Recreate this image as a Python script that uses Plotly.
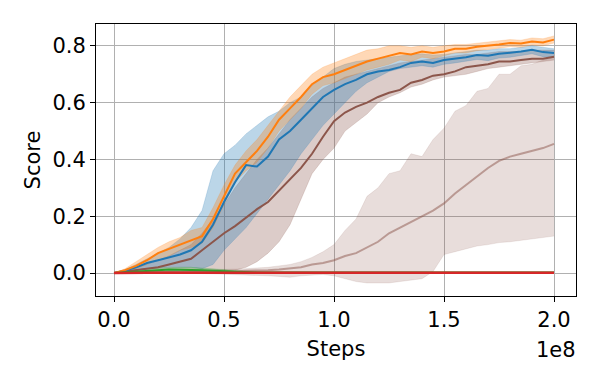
import plotly.graph_objects as go

# steps (x 1e8), sampled every 5e6
steps = [i * 5e6 for i in range(41)]

orange_mean = [0, 0.01, 0.025, 0.045, 0.07, 0.085, 0.10, 0.115, 0.13, 0.19, 0.27, 0.35, 0.39, 0.43, 0.48, 0.54,
               0.58, 0.62, 0.665, 0.69, 0.70, 0.715, 0.73, 0.745, 0.755, 0.765, 0.775, 0.77, 0.78, 0.775, 0.78,
               0.79, 0.79, 0.797, 0.80, 0.805, 0.81, 0.808, 0.815, 0.812, 0.822]
orange_hi = [0, 0.015, 0.04, 0.065, 0.09, 0.11, 0.125, 0.15, 0.16, 0.23, 0.31, 0.38, 0.43, 0.47, 0.52, 0.57,
             0.62, 0.66, 0.70, 0.725, 0.74, 0.755, 0.77, 0.785, 0.79, 0.80, 0.80, 0.795, 0.80, 0.795, 0.80,
             0.805, 0.805, 0.81, 0.815, 0.818, 0.822, 0.82, 0.828, 0.825, 0.835]
orange_lo = [0, 0.005, 0.015, 0.03, 0.05, 0.06, 0.08, 0.09, 0.105, 0.16, 0.24, 0.32, 0.36, 0.39, 0.44, 0.50,
             0.54, 0.58, 0.63, 0.66, 0.67, 0.685, 0.70, 0.715, 0.725, 0.735, 0.75, 0.745, 0.76, 0.755, 0.765,
             0.775, 0.775, 0.783, 0.787, 0.792, 0.797, 0.795, 0.803, 0.80, 0.81]

blue_mean = [0, 0.008, 0.02, 0.035, 0.045, 0.055, 0.065, 0.08, 0.11, 0.17, 0.25, 0.32, 0.38, 0.375, 0.41, 0.47,
             0.50, 0.54, 0.58, 0.62, 0.645, 0.665, 0.68, 0.70, 0.71, 0.715, 0.725, 0.74, 0.745, 0.74, 0.75,
             0.755, 0.76, 0.768, 0.765, 0.772, 0.775, 0.78, 0.786, 0.778, 0.775]
blue_hi = [0, 0.012, 0.03, 0.05, 0.07, 0.09, 0.12, 0.16, 0.22, 0.36, 0.42, 0.45, 0.49, 0.52, 0.55, 0.57,
           0.60, 0.62, 0.66, 0.69, 0.72, 0.735, 0.745, 0.75, 0.755, 0.76, 0.765, 0.77, 0.772, 0.768, 0.77,
           0.775, 0.778, 0.785, 0.785, 0.79, 0.79, 0.795, 0.80, 0.795, 0.79]
blue_lo = [0, 0.004, 0.01, 0.015, 0.018, 0.02, 0.02, 0.02, 0.015, 0.03, 0.08, 0.12, 0.16, 0.21, 0.26, 0.31,
           0.36, 0.42, 0.47, 0.52, 0.56, 0.60, 0.64, 0.67, 0.69, 0.71, 0.72, 0.725, 0.73, 0.725, 0.735,
           0.74, 0.745, 0.752, 0.748, 0.757, 0.76, 0.765, 0.772, 0.762, 0.76]

brown_mean = [0, 0.005, 0.01, 0.015, 0.02, 0.03, 0.04, 0.05, 0.08, 0.11, 0.14, 0.165, 0.195, 0.225, 0.25, 0.29,
              0.33, 0.37, 0.42, 0.48, 0.535, 0.565, 0.585, 0.60, 0.62, 0.635, 0.645, 0.67, 0.68, 0.695, 0.70,
              0.71, 0.725, 0.73, 0.735, 0.745, 0.745, 0.75, 0.755, 0.755, 0.762]
brown_hi = [0, 0.008, 0.02, 0.03, 0.045, 0.06, 0.08, 0.10, 0.14, 0.19, 0.24, 0.30, 0.35, 0.40, 0.44, 0.49,
            0.54, 0.58, 0.62, 0.65, 0.67, 0.69, 0.70, 0.71, 0.72, 0.73, 0.74, 0.745, 0.75, 0.755, 0.76,
            0.765, 0.77, 0.77, 0.775, 0.78, 0.78, 0.78, 0.785, 0.785, 0.785]
brown_lo = [0, 0.002, 0.003, 0.004, 0.005, 0.005, 0.005, 0.006, 0.006, 0.006, 0.008, 0.01, 0.02, 0.04, 0.07, 0.11,
            0.17, 0.26, 0.35, 0.40, 0.44, 0.50, 0.53, 0.56, 0.60, 0.62, 0.635, 0.655, 0.665, 0.68, 0.69,
            0.695, 0.70, 0.71, 0.72, 0.725, 0.73, 0.735, 0.74, 0.745, 0.75]

pale_mean = [0, 0.001, 0.002, 0.002, 0.003, 0.003, 0.003, 0.003, 0.004, 0.004, 0.005, 0.005, 0.008, 0.008, 0.01,
             0.012, 0.015, 0.02, 0.03, 0.035, 0.045, 0.06, 0.07, 0.09, 0.11, 0.14, 0.16, 0.18, 0.20, 0.22,
             0.245, 0.28, 0.31, 0.34, 0.37, 0.395, 0.41, 0.42, 0.43, 0.44, 0.455]
pale_hi = [0, 0.002, 0.004, 0.005, 0.006, 0.007, 0.008, 0.009, 0.01, 0.01, 0.012, 0.013, 0.015, 0.018, 0.02,
           0.025, 0.03, 0.04, 0.055, 0.075, 0.10, 0.15, 0.19, 0.27, 0.30, 0.35, 0.36, 0.42, 0.41, 0.47,
           0.51, 0.57, 0.59, 0.64, 0.65, 0.70, 0.70, 0.73, 0.735, 0.75, 0.76]
pale_lo = [0, 0, 0, 0, 0, 0, 0, 0, -0.002, -0.003, -0.004, -0.005, -0.006, -0.008, -0.01, -0.012, -0.015,
           -0.01, -0.008, -0.005, -0.01, -0.02, -0.03, -0.035, -0.035, -0.035, -0.03, -0.025, -0.02, 0.005,
           0.065, 0.075, 0.085, 0.095, 0.10, 0.107, 0.11, 0.115, 0.12, 0.125, 0.13]

green_mean = [0, 0.003, 0.006, 0.008, 0.01, 0.012, 0.012, 0.012, 0.01, 0.008, 0.006, 0.004, 0.003, 0.002, 0.002,
              0.002, 0.002, 0.002, 0.002, 0.002, 0.002, 0.002, 0.002, 0.002, 0.002, 0.002, 0.002, 0.002, 0.002,
              0.002, 0.002, 0.002, 0.002, 0.002, 0.002, 0.002, 0.002, 0.002, 0.002, 0.002, 0.002]
green_hi = [0, 0.006, 0.012, 0.016, 0.018, 0.02, 0.02, 0.02, 0.018, 0.015, 0.012, 0.008, 0.006, 0.004, 0.004,
            0.004, 0.004, 0.004, 0.004, 0.004, 0.004, 0.004, 0.004, 0.004, 0.004, 0.004, 0.004, 0.004, 0.004,
            0.004, 0.004, 0.004, 0.004, 0.004, 0.004, 0.004, 0.004, 0.004, 0.004, 0.004, 0.004]
green_lo = [0] * 41

red_mean = [0] + [0.001] * 40
red_hi = [v + 0.002 for v in red_mean]
red_lo = [v - 0.002 for v in red_mean]

runs = [
    # name, mean, lo, hi, line colour, band colour, line width
    ('pale', pale_mean, pale_lo, pale_hi, 'rgba(140,86,75,0.5)', 'rgba(140,86,75,0.2)', 2),
    ('brown', brown_mean, brown_lo, brown_hi, '#8c564b', 'rgba(140,86,75,0.3)', 2),
    ('blue', blue_mean, blue_lo, blue_hi, '#1f77b4', 'rgba(31,119,180,0.3)', 2),
    ('orange', orange_mean, orange_lo, orange_hi, '#ff7f0e', 'rgba(255,127,14,0.3)', 2),
    ('green', green_mean, green_lo, green_hi, '#2ca02c', 'rgba(44,160,44,0.3)', 2),
    ('red', red_mean, red_lo, red_hi, '#d62728', 'rgba(214,39,40,0.3)', 2.5),
]

fig = go.Figure()
for name, mean, lo, hi, lc, fc, lw in runs:
    fig.add_trace(go.Scatter(x=steps, y=lo, mode='lines', line=dict(width=0.6, color=fc), showlegend=False))
    fig.add_trace(go.Scatter(x=steps, y=hi, mode='lines', line=dict(width=0.6, color=fc), fill='tonexty',
                             fillcolor=fc, showlegend=False))
for name, mean, lo, hi, lc, fc, lw in runs:
    fig.add_trace(go.Scatter(x=steps, y=mean, mode='lines', line=dict(width=lw, color=lc), showlegend=False))

font = dict(family='DejaVu Sans', size=21, color='black')
fig.update_layout(
    width=600, height=375,
    margin=dict(l=96, r=24, t=24, b=79),
    plot_bgcolor='white', paper_bgcolor='white',
    font=font,
    xaxis=dict(range=[-0.082e8, 2.1e8], tickvals=[0, 0.5e8, 1e8, 1.5e8, 2e8],
               ticktext=['0.0', '0.5', '1.0', '1.5', '2.0'], automargin=False,
               showgrid=True, gridcolor='#b0b0b0', gridwidth=1, zeroline=False,
               showline=True, linecolor='black', linewidth=1, mirror=True,
               ticks='outside', ticklen=5, tickcolor='black',
               title=dict(text='Steps', font=font, standoff=10)),
    yaxis=dict(range=[-0.081, 0.877], tickvals=[0, 0.2, 0.4, 0.6, 0.8],
               ticktext=['0.0', '0.2', '0.4', '0.6', '0.8'], automargin=False,
               showgrid=True, gridcolor='#b0b0b0', gridwidth=1, zeroline=False,
               showline=True, linecolor='black', linewidth=1, mirror=True,
               ticks='outside', ticklen=5, tickcolor='black',
               title=dict(text='Score', font=font, standoff=6)),
)
fig.add_annotation(text='1e8', xref='paper', yref='paper', x=1.0, y=0, xanchor='right', yanchor='top',
                   yshift=-40, xshift=2, showarrow=False, font=font)

fig.write_html('out.html', config={'displayModeBar': False},
               post_script="document.body.style.margin = '0';")
